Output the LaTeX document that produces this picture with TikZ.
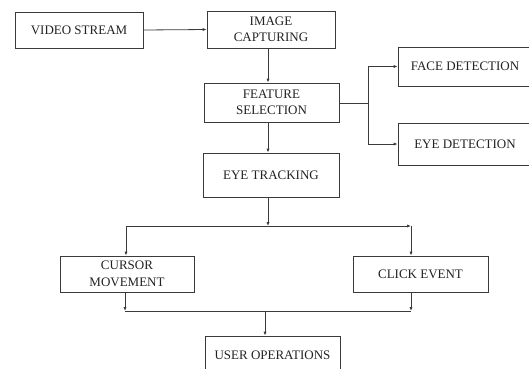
\documentclass[tikz,border=0pt]{standalone}
\usepackage{fontspec}
\setmainfont{Liberation Serif}
\usetikzlibrary{arrows.meta}
\definecolor{ln}{HTML}{3A3A3A}
\definecolor{tx}{HTML}{222222}
\tikzset{
  box/.style={draw=ln, line width=0.8pt, rectangle, align=center, inner sep=0pt,
    text=tx, font=\fontsize{13}{16.5}\selectfont},
  conn/.style={draw=ln, line width=0.8pt},
  arr/.style={conn, -{Latex[length=4pt,width=3.2pt]}}
}
\begin{document}
\begin{tikzpicture}[x=1pt,y=-1pt]
\useasboundingbox (0,0) rectangle (529,368);
\begin{scope}
\clip (0,0) rectangle (529,368);
\node[box, minimum width=128pt, minimum height=36pt] (vid) at (79,30) {VIDEO STREAM};
\node[box, minimum width=128pt, minimum height=37pt] (img) at (271,29.5) {IMAGE\\CAPTURING};
\node[box, minimum width=135pt, minimum height=39pt] (feat) at (271.5,102.5) {FEATURE\\SELECTION};
\node[box, minimum width=136pt, minimum height=44pt] (eye) at (271,175) {EYE TRACKING};
\node[box, minimum width=134pt, minimum height=39pt] (face) at (465,66.5) {FACE DETECTION};
\node[box, minimum width=134pt, minimum height=42pt] (eyed) at (465,144) {EYE DETECTION};
\node[box, minimum width=134pt, minimum height=36pt] (cur) at (127,274) {CURSOR\\MOVEMENT};
\node[box, minimum width=135pt, minimum height=36pt] (click) at (420.5,274) {CLICK EVENT};
\node[box, minimum width=135pt, minimum height=38pt, text depth=0pt] (user) at (272.5,355) {};
\node[text=tx, font=\fontsize{13}{16.5}\selectfont] (usertxt) at (272.5,355) {USER OPERATIONS};
\end{scope}

\coordinate (a) at (268,0);
\coordinate (b) at (368,103);
\coordinate (j) at (268,226);
\coordinate (jl) at (126,226);
\coordinate (jr) at (411,226);
\coordinate (kl) at (125,311);
\coordinate (kr) at (411,311);
\coordinate (k) at (265,311);

\draw[arr] (vid.east) -- (img.west);
\draw[arr] (img.south -| a) -- (a |- feat.north);
\draw[arr] (feat.south -| a) -- (a |- eye.north);
\draw[conn] (feat.east |- b) -- (b);
\draw[arr] (b) |- (face.west);
\draw[arr] (b) |- (eyed.west);

\draw[arr] (eye.south -| j) -- (j);
\draw[arr] (j) -- (jr);
\draw[conn] (j) -- (jl);
\draw[arr] (jl) -- (jl |- cur.north);
\draw[arr] (jr) -- (jr |- click.north);
\draw[arr] (cur.south -| kl) -- (kl);
\draw[arr] (click.south -| kr) -- (kr);
\draw[conn] (kl) -- (kr);
\draw[arr] (k) -- (k |- user.north);
\end{tikzpicture}
\end{document}
